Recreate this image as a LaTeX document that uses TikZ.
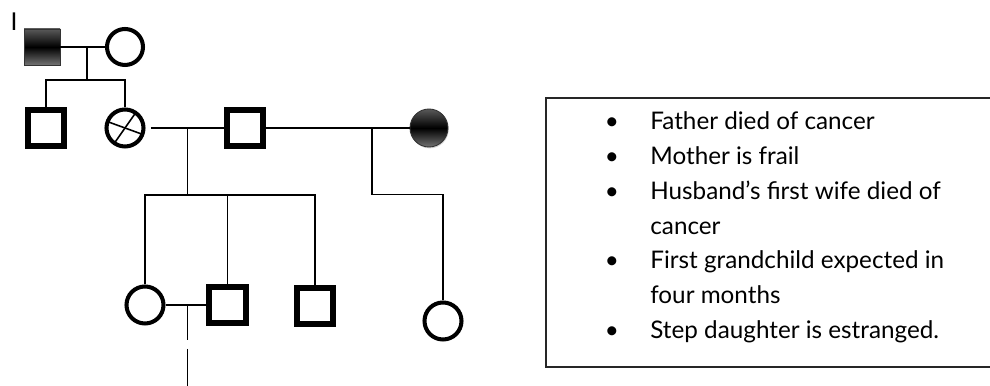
\documentclass[tikz,border=0pt]{standalone}
\usepackage{fontspec}
\setmainfont{Lato}
\usetikzlibrary{shadows,positioning}

\tikzset{
  male/.style={draw, rectangle, line width=3.2pt, minimum size=0.73cm, inner sep=0pt, fill=white},
  female/.style={draw, circle, line width=2.3pt, minimum size=0.74cm, inner sep=0pt, fill=white},
  affected/.style={draw=black!80, line width=0.5pt, top color=black!65, bottom color=black!55,
    middle color=black, drop shadow={opacity=0.35, shadow xshift=0.4pt, shadow yshift=-0.8pt}},
  link/.style={line width=1.1pt},
  note/.style={anchor=base west, inner sep=0pt, font=\fontsize{13.8}{19.7}\selectfont},
  bullet/.style={anchor=base, inner sep=0pt, font=\fontsize{13.8}{19.7}\selectfont},
}

\begin{document}
\begin{tikzpicture}
\useasboundingbox (0,0) rectangle (19.8,7.72);

% generation I
\node[inner sep=0pt, font=\fontsize{14}{14}\selectfont] (genI) at (0.28,7.28) {I};
\node[male, affected, minimum size=0.72cm] (gfather) at (0.84,6.78) {};
\node[female, minimum size=0.72cm] (gmother) at (2.50,6.78) {};
\draw[link] (gfather) -- (gmother);
\coordinate (gpar) at (1.74,6.78);
\coordinate (gsib) at (1.74,6.12);
\draw[link] (gpar) -- (gsib);

% generation II
\node[male] (brother) at (0.92,5.16) {};
\node[female] (client) at (2.50,5.16) {};
\draw[line width=0.9pt] (client.center) -- ++(-20:0.37) (client.center) -- ++(160:0.37);
\draw[line width=0.9pt] (client.center) -- ++(55:0.37) (client.center) -- ++(235:0.37);
\node[male] (husband) at (4.90,5.16) {};
\node[female, affected, minimum size=0.76cm] (firstwife) at (8.58,5.16) {};
\draw[link] (brother) |- (gsib) -| (client);
\draw[link, shorten <=3pt] (client) -- (husband);
\draw[link] (husband) -- (firstwife);

% children
\coordinate (cpar) at (3.75,5.16);
\coordinate (csib) at (3.75,3.82);
\coordinate (spar) at (7.44,5.16);
\coordinate (sbend) at (7.44,3.83);
\draw[link] (cpar) -- (csib);

% generation III
\node[female] (daughter) at (2.90,1.62) {};
\node[male] (son) at (4.55,1.62) {};
\node[male] (youngson) at (6.30,1.60) {};
\node[female] (stepdaughter) at (8.86,1.30) {};
\draw[link] (daughter) |- (csib) -| (youngson);
\draw[link] (son) -- (son |- csib);
\draw[link] (spar) -- (sbend) -| (stepdaughter);
\draw[link] (daughter) -- (son);
\coordinate (gcpar) at (3.75,1.62);
\coordinate (gcgap) at (3.75,0.92);
\coordinate (gcrest) at (3.75,0.74);
\coordinate (gcend) at (3.75,0);
\draw[link] (gcpar) -- (gcgap);
\draw[link] (gcrest) -- (gcend);

% notes
\node[draw=black!85, line width=1.2pt, anchor=north west, inner sep=0pt,
  minimum width=9.2cm, minimum height=5.38cm] (notes) at (10.90,5.78) {};
\node[bullet] (b1) at (12.24,5.12) {\textbullet};
\node[note] (t1) at (13.0,5.12) {Father died of cancer};
\node[bullet] (b2) at (12.24,4.42) {\textbullet};
\node[note] (t2) at (13.0,4.42) {Mother is frail};
\node[bullet] (b3) at (12.24,3.72) {\textbullet};
\node[note] (t3) at (13.0,3.72) {Husband's first wife died of};
\node[note] (t3b) at (13.0,3.02) {cancer};
\node[bullet] (b4) at (12.24,2.34) {\textbullet};
\node[note] (t4) at (13.0,2.34) {First grandchild expected in};
\node[note] (t4b) at (13.0,1.64) {four months};
\node[bullet] (b5) at (12.24,0.94) {\textbullet};
\node[note] (t5) at (13.0,0.94) {Step daughter is estranged.};
\end{tikzpicture}
\end{document}
